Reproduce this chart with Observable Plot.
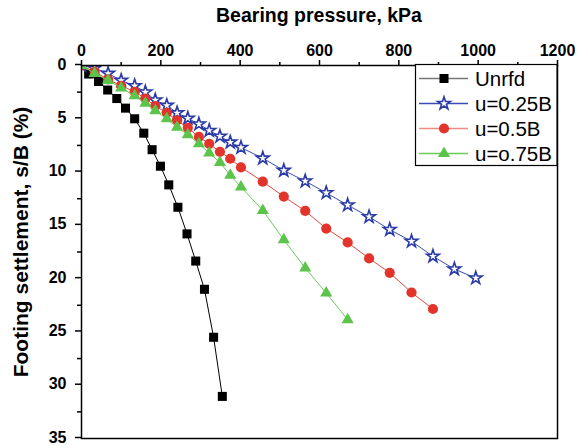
<!DOCTYPE html>
<html>
<head>
<meta charset="utf-8">
<script src="https://cdn.jsdelivr.net/npm/d3@7"></script>
<script src="https://cdn.jsdelivr.net/npm/@observablehq/plot@0.6"></script>
<style>
  html, body { margin: 0; padding: 0; background: white; overflow: hidden; }
  svg { display: block; }
</style>
</head>
<body>
<div id="chart"></div>
<script>
// ---- data ----
const seriesNames = ["Unrfd", "u=0.25B", "u=0.5B", "u=o.75B"];

const pressureUnrfd = [0, 18, 43, 66, 89, 111, 134, 157, 178, 199, 220, 243, 266, 288, 310, 333, 355];
const settleUnrfd   = [0, 0.8, 1.5, 2.3, 3.1, 4.0, 5.0, 6.35, 7.9, 9.45, 11.2, 13.3, 15.8, 18.35, 21.0, 25.5, 31.05];

const pressureU25 = [0, 33, 67, 100, 134, 161, 186, 215, 241, 268, 296, 322, 349, 375, 402, 457, 510, 564, 617, 671, 725, 777, 832, 886, 940, 994];
const settleU25   = [0, 0.25, 0.75, 1.4, 1.9, 2.5, 3.25, 3.75, 4.45, 4.95, 5.5, 6.1, 6.65, 7.2, 7.7, 8.7, 9.85, 10.85, 11.95, 13.1, 14.2, 15.4, 16.5, 17.9, 19.1, 19.95];

const pressureU50 = [0, 33, 67, 100, 134, 161, 186, 215, 241, 268, 296, 322, 349, 375, 402, 457, 510, 564, 617, 671, 725, 777, 832, 886];
const settleU50   = [0, 0.6, 1.3, 1.9, 2.47, 3.1, 3.8, 4.45, 5.15, 5.85, 6.7, 7.35, 8.1, 8.75, 9.55, 10.9, 12.3, 13.65, 15.3, 16.6, 18.1, 19.45, 21.3, 22.85];

const pressureU75 = [0, 33, 67, 100, 134, 161, 186, 215, 241, 268, 296, 322, 349, 375, 402, 457, 510, 564, 617, 671];
const settleU75   = [0, 0.75, 1.4, 2.1, 2.85, 3.55, 4.25, 5.0, 5.8, 6.5, 7.35, 8.2, 9.1, 10.3, 11.4, 13.6, 16.35, 19.0, 21.35, 23.85];

const xTicks = [0, 200, 400, 600, 800, 1000, 1200];
const xMinorTicks = [100, 300, 500, 700, 900, 1100];
const yTicks = [0, 5, 10, 15, 20, 25, 30, 35];
const yMinorTicks = [2.5, 7.5, 12.5, 17.5, 22.5, 27.5, 32.5];

const xTitle = "Bearing pressure, kPa";
const yTitle = "Footing settlement, s/B (%)";

// ---- styles ----
const symbols = ["square", "star", "circle", "triangle"];
const markColors = ["#000000", "#2a3aa6", "#e2342b", "#5cc44a"];
const lineColors = ["#000000", "#3b4db3", "#e8473d", "#6acc58"];
const legendLineColors = ["#777777", "#3b4db3", "#f08a84", "#6acc58"];
const radii = [5.1, 4.0, 5.1, 4.5];
const font = "'Liberation Sans', Arial, Helvetica, sans-serif";

const toRows = (ps, ss, name) => ps.map((p, i) => ({p, s: ss[i], series: name}));
const tables = [
  toRows(pressureUnrfd, settleUnrfd, seriesNames[0]),
  toRows(pressureU25, settleU25, seriesNames[1]),
  toRows(pressureU50, settleU50, seriesNames[2]),
  toRows(pressureU75, settleU75, seriesNames[3])
];

const seriesMarks = tables.flatMap((rows, i) => [
  Plot.line(rows, {x: "p", y: "s", stroke: lineColors[i], strokeWidth: 1, clip: true}),
  Plot.dot(rows, {
    x: "p", y: "s", symbol: symbols[i], r: radii[i], clip: true,
    fill: i === 1 ? "white" : markColors[i],
    stroke: i === 1 ? markColors[i] : "none",
    strokeWidth: i === 1 ? 1.6 : 0
  })
]);

const fmt = d3.format("d");

const svg = Plot.plot({
  width: 580,
  height: 445,
  marginTop: 65,
  marginLeft: 81,
  marginRight: 23,
  marginBottom: 7,
  style: {fontFamily: font, background: "white", color: "black", overflow: "visible"},
  x: {domain: [0, 1200]},
  y: {domain: [0, 35], reverse: true},
  marks: [
    Plot.axisX({anchor: "top", ticks: xMinorTicks, tickSize: 4, tickFormat: () => "", strokeWidth: 1.5, label: null}),
    Plot.axisX({anchor: "top", ticks: xTicks, tickSize: 6, tickPadding: 4, tickFormat: fmt, fontSize: 16, fontWeight: "bold", strokeWidth: 1.5, label: null}),
    Plot.axisY({anchor: "left", ticks: yMinorTicks, tickSize: 4, tickFormat: () => "", strokeWidth: 1.5, label: null}),
    Plot.axisY({anchor: "left", ticks: yTicks, tickSize: 6, tickPadding: 9, tickFormat: fmt, dy: -1, fontSize: 16, fontWeight: "bold", strokeWidth: 1.5, label: null}),
    ...seriesMarks,
    Plot.frame({stroke: "black", strokeWidth: 1.5})
  ]
});

document.getElementById("chart").appendChild(svg);

// ---- titles ----
const s = d3.select(svg);
s.append("text")
  .attr("x", 319).attr("y", 22)
  .attr("text-anchor", "middle")
  .attr("font-family", font).attr("font-size", 19.5).attr("font-weight", "bold")
  .attr("fill", "black")
  .text(xTitle);

s.append("text")
  .attr("transform", "translate(28,242) rotate(-90)")
  .attr("text-anchor", "middle")
  .attr("font-family", font).attr("font-size", 21).attr("font-weight", "bold")
  .attr("fill", "black")
  .text(yTitle);

// ---- legend ----
const lg = s.append("g");
lg.append("rect")
  .attr("x", 415.5).attr("y", 64.5).attr("width", 141.5).attr("height", 101)
  .attr("fill", "white").attr("stroke", "black").attr("stroke-width", 1.2);

const d3Symbols = {square: d3.symbolSquare, star: d3.symbolStar, circle: d3.symbolCircle, triangle: d3.symbolTriangle};
seriesNames.forEach((name, i) => {
  const y = 78.5 + i * 25;
  lg.append("line")
    .attr("x1", 419).attr("x2", 468).attr("y1", y).attr("y2", y)
    .attr("stroke", legendLineColors[i]).attr("stroke-width", 1.5);
  lg.append("path")
    .attr("transform", `translate(444,${y})`)
    .attr("d", d3.symbol(d3Symbols[symbols[i]], Math.PI * radii[i] * radii[i])())
    .attr("fill", i === 1 ? "white" : markColors[i])
    .attr("stroke", i === 1 ? markColors[i] : "none")
    .attr("stroke-width", 1.6);
  lg.append("text")
    .attr("x", 475).attr("y", y).attr("dy", "0.35em")
    .attr("text-anchor", "start")
    .attr("font-family", font).attr("font-size", 20.5)
    .attr("fill", "black")
    .text(name);
});
</script>
</body>
</html>
